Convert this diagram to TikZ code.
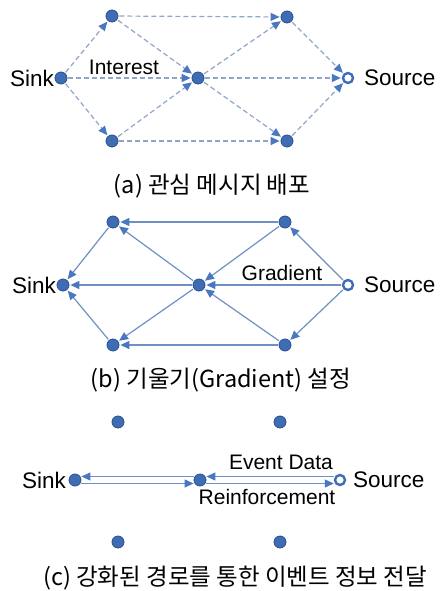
\documentclass[tikz,border=0pt]{standalone}
\usepackage{fontspec}
\setmainfont{Liberation Sans}
\newfontfamily\kr{Noto Sans CJK KR}
\usetikzlibrary{arrows.meta}
\definecolor{nodefill}{HTML}{3E6DB5}
\definecolor{nodeline}{HTML}{2B4F8A}
\definecolor{tipcol}{HTML}{4A78C0}
\definecolor{dashcol}{HTML}{90A6C9}
\definecolor{solidcol}{HTML}{7090C3}
\begin{document}
\begin{tikzpicture}[x=1pt,y=-1pt,
  sensor/.style={circle,minimum size=12pt,inner sep=0pt,fill=nodefill,draw=nodeline,line width=0.8pt},
  srcnode/.style={circle,minimum size=10pt,inner sep=0pt,fill=white,draw=nodefill,line width=2.4pt},
  lbl/.style={font=\fontsize{21}{24}\selectfont,inner sep=0pt},
  endlbl/.style={font=\fontsize{22.5}{26}\selectfont,inner sep=0pt},
  captext/.style={font=\kr\fontsize{23.5}{26}\selectfont,inner sep=0pt},
  tip/.style={-{Triangle[length=9pt,width=8pt,color=tipcol]}},
  dashedge/.style={tip,draw=dashcol,line width=1.2pt,dash pattern=on 5pt off 3pt,shorten >=1pt,shorten <=1pt},
  solidedge/.style={tip,draw=solidcol,line width=1.2pt,shorten >=1pt,shorten <=1pt},
  pathedge/.style={tip,draw=solidcol,line width=1.1pt}]
\useasboundingbox (0,0) rectangle (440,591);
\fill[white] (0,0) rectangle (440,591);

% ---------- (a) ----------
\node[sensor] (aSink) at (61,78) {};
\node[sensor] (aTL) at (112,16) {};
\node[sensor] (aTR) at (287,17) {};
\node[sensor] (aC) at (198,78) {};
\node[srcnode] (aSo) at (348,78) {};
\node[sensor] (aBL) at (112,141) {};
\node[sensor] (aBR) at (287,141) {};
\node[endlbl,anchor=east] (aSinkL) at (54,78) {Sink};
\node[endlbl,anchor=west] (aSoL) at (364,78) {Source};
\node[lbl] (aInt) at (124,67) {Interest};
\draw[dashedge] (aSink) -- (aTL);
\draw[dashedge] (aSink) -- (aC);
\draw[dashedge] (aSink) -- (aBL);
\draw[dashedge] (aTL) -- (aTR);
\draw[dashedge] (aTL) -- (aC);
\draw[dashedge] (aBL) -- (aC);
\draw[dashedge] (aBL) -- (aBR);
\draw[dashedge] (aC) -- (aTR);
\draw[dashedge] (aC) -- (aSo);
\draw[dashedge] (aC) -- (aBR);
\draw[dashedge] (aTR) -- (aSo);
\draw[dashedge] (aBR) -- (aSo);
\node[captext] (capa) at (212,186) {(a) 관심 메시지 배포};

% ---------- (b) ----------
\node[sensor] (bSink) at (63,285) {};
\node[sensor] (bTL) at (113,222) {};
\node[sensor] (bTR) at (285,222) {};
\node[sensor] (bC) at (199,285) {};
\node[srcnode] (bSo) at (348,285) {};
\node[sensor] (bBL) at (113,345) {};
\node[sensor] (bBR) at (285,345) {};
\node[endlbl,anchor=east] (bSinkL) at (56,285) {Sink};
\node[endlbl,anchor=west] (bSoL) at (364,285) {Source};
\node[lbl] (bGrad) at (282,273) {Gradient};
\draw[solidedge] (bTR) -- (bTL);
\draw[solidedge] (bTR) -- (bC);
\draw[solidedge] (bSo) -- (bTR);
\draw[solidedge] (bSo) -- (bC);
\draw[solidedge] (bSo) -- (bBR);
\draw[solidedge] (bBR) -- (bC);
\draw[solidedge] (bBR) -- (bBL);
\draw[solidedge] (bC) -- (bTL);
\draw[solidedge] (bC) -- (bSink);
\draw[solidedge] (bC) -- (bBL);
\draw[solidedge] (bTL) -- (bSink);
\draw[solidedge] (bBL) -- (bSink);
\node[captext] (capb) at (221,380) {(b) 기울기(Gradient) 설정};

% ---------- (c) ----------
\node[sensor] (cSink) at (75,480) {};
\node[sensor] (cTL) at (118,422) {};
\node[sensor] (cTR) at (280,422) {};
\node[sensor] (cC) at (200,480) {};
\node[srcnode] (cSo) at (340,480) {};
\node[sensor] (cBL) at (118,542) {};
\node[sensor] (cBR) at (280,542) {};
\node[endlbl,anchor=east] (cSinkL) at (66,480) {Sink};
\node[endlbl,anchor=west] (cSoL) at (353,480) {Source};
\node[lbl] (cEv) at (281,462) {Event Data};
\node[lbl] (cRe) at (267,497) {Reinforcement};
\draw[pathedge] ([yshift=3.5pt]cSo.west) -- ([yshift=3.5pt]cC.east);
\draw[pathedge] ([yshift=3.5pt]cC.west) -- ([yshift=3.5pt]cSink.east);
\draw[pathedge] ([yshift=-3.5pt]cSink.east) -- ([yshift=-3.5pt]cC.west);
\draw[pathedge] ([yshift=-3.5pt]cC.east) -- ([yshift=-3.5pt]cSo.west);
\node[captext] (capc) at (235,578) {(c) 강화된 경로를 통한 이벤트 정보 전달};
\end{tikzpicture}
\end{document}
